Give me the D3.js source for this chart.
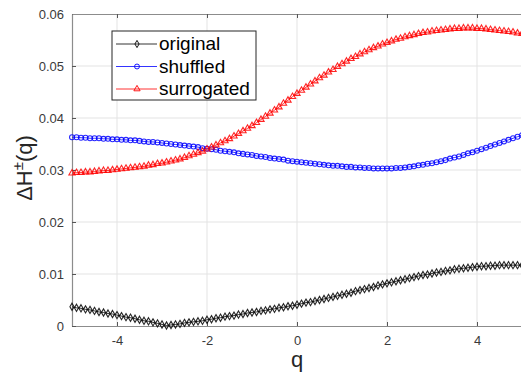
<!DOCTYPE html>
<html>
<head>
<meta charset="utf-8">
<script src="https://cdn.jsdelivr.net/npm/d3@7"></script>
<style>
  body { margin: 0; background: #fff; }
  svg { display: block; font-family: "Liberation Sans", Arial, sans-serif; }
</style>
</head>
<body>
<svg width="521" height="373"></svg>
<script>
/* q runs from -5 to 5 in steps of 0.1 (101 points) */
var qValues = d3.range(101).map(function(i) { return Math.round((-5 + i / 10) * 10) / 10; });

var original = [
  .0037,.0035,.0034,.0032,.0031,.0029,.0027,.0026,.0024,.0023,
  .0021,.0019,.0017,.0016,.0014,.0012,.0010,.0009,.0007,.0005,
  .0003,.0001,.0002,.0003,.0004,.0006,.0007,.0008,.0009,.0010,
  .0012,.0013,.0015,.0016,.0018,.0019,.0020,.0022,.0023,.0025,
  .0026,.0027,.0029,.0030,.0032,.0033,.0035,.0036,.0038,.0039,
  .0041,.0043,.0045,.0046,.0048,.0050,.0052,.0054,.0056,.0058,
  .0060,.0062,.0064,.0067,.0069,.0071,.0073,.0075,.0078,.0080,
  .0082,.0084,.0086,.0088,.0090,.0092,.0094,.0096,.0098,.0099,
  .0101,.0103,.0104,.0106,.0107,.0109,.0110,.0111,.0112,.0113,
  .0114,.0115,.0115,.0116,.0116,.0117,.0117,.0117,.0117,.0117,
  .0117
];

var shuffled = [
  .0363,.0363,.0362,.0362,.0361,.0361,.0361,.0360,.0360,.0359,
  .0359,.0358,.0358,.0357,.0357,.0356,.0355,.0354,.0354,.0353,
  .0352,.0351,.0350,.0349,.0348,.0347,.0346,.0345,.0344,.0342,
  .0341,.0340,.0339,.0337,.0336,.0335,.0334,.0332,.0331,.0330,
  .0329,.0327,.0326,.0325,.0323,.0322,.0321,.0320,.0318,.0317,
  .0316,.0315,.0314,.0313,.0312,.0311,.0310,.0309,.0308,.0308,
  .0307,.0306,.0306,.0305,.0305,.0304,.0304,.0303,.0303,.0303,
  .0303,.0303,.0304,.0304,.0305,.0306,.0307,.0309,.0310,.0312,
  .0313,.0315,.0317,.0319,.0322,.0324,.0326,.0329,.0332,.0334,
  .0337,.0340,.0343,.0346,.0349,.0352,.0355,.0358,.0361,.0364,
  .0367
];

var surrogated = [
  .0294,.0295,.0295,.0296,.0296,.0297,.0298,.0299,.0299,.0300,
  .0301,.0302,.0303,.0304,.0305,.0306,.0307,.0309,.0310,.0312,
  .0313,.0315,.0317,.0319,.0321,.0324,.0327,.0330,.0333,.0336,
  .0340,.0344,.0348,.0352,.0356,.0360,.0365,.0370,.0375,.0380,
  .0385,.0391,.0397,.0403,.0409,.0415,.0421,.0428,.0434,.0441,
  .0447,.0453,.0459,.0465,.0471,.0477,.0482,.0488,.0493,.0499,
  .0504,.0509,.0514,.0518,.0523,.0527,.0531,.0535,.0538,.0542,
  .0545,.0548,.0551,.0553,.0556,.0558,.0560,.0562,.0564,.0565,
  .0567,.0568,.0569,.0570,.0571,.0572,.0572,.0573,.0573,.0573,
  .0572,.0572,.0571,.0570,.0569,.0568,.0567,.0566,.0565,.0563,
  .0562
];

var seriesNames = ["original", "shuffled", "surrogated"];
var xTicks = [-4, -2, 0, 2, 4];
var yTicks = [0, 0.01, 0.02, 0.03, 0.04, 0.05, 0.06];

var svg = d3.select("svg"),
    margin = {top: 14, right: -1, bottom: 47, left: 72},
    width = +svg.attr("width") - margin.left - margin.right,
    height = +svg.attr("height") - margin.top - margin.bottom,
    g = svg.append("g").attr("transform", "translate(" + margin.left + "," + margin.top + ")");

var x = d3.scaleLinear().domain([-5, 5]).range([0, width]);
var y = d3.scaleLinear().domain([0, 0.06]).range([height, 0]);

/* grid */
g.append("g").selectAll("line").data(xTicks).enter().append("line")
    .attr("x1", function(d) { return x(d); }).attr("x2", function(d) { return x(d); })
    .attr("y1", 0).attr("y2", height)
    .attr("stroke", "#e3e3e3").attr("stroke-width", 1);
g.append("g").selectAll("line").data(yTicks.slice(1, -1)).enter().append("line")
    .attr("x1", 0).attr("x2", width)
    .attr("y1", function(d) { return y(d); }).attr("y2", function(d) { return y(d); })
    .attr("stroke", "#e3e3e3").attr("stroke-width", 1);

/* axes, MATLAB style with inward ticks */
var xAxis = g.append("g")
    .attr("transform", "translate(0," + height + ")")
    .call(d3.axisBottom(x).tickValues(xTicks).tickSizeInner(-4).tickSizeOuter(0).tickPadding(10)
      .tickFormat(function(d) { return d < 0 ? "-" + Math.abs(d) : d; }));
var yAxis = g.append("g")
    .call(d3.axisLeft(y).tickValues(yTicks).tickSizeInner(-4).tickSizeOuter(0).tickPadding(8)
      .tickFormat(function(d) { return d === 0 ? "0" : d3.format(".2f")(d); }));
var topAxis = g.append("g")
    .call(d3.axisTop(x).tickValues(xTicks).tickSizeInner(-4).tickSizeOuter(0).tickFormat(""));

[xAxis, yAxis, topAxis].forEach(function(a) {
  a.select(".domain").attr("stroke", "#8c8c8c").attr("stroke-width", 1.2);
  a.selectAll(".tick line").attr("stroke", "#555");
  a.selectAll(".tick text").attr("fill", "#3a3a3a").style("font-size", "13px");
});

/* series */
var series = [
  {name: seriesNames[0], values: original, color: "#000000", marker: d3.symbolDiamond, size: 15},
  {name: seriesNames[1], values: shuffled, color: "#0000ff", marker: d3.symbolCircle, size: 19},
  {name: seriesNames[2], values: surrogated, color: "#ff0000", marker: d3.symbolTriangle, size: 17}
];

var line = d3.line()
    .x(function(d, i) { return x(qValues[i]); })
    .y(function(d) { return y(d); });

series.forEach(function(s) {
  var sg = g.append("g");
  sg.append("path")
      .datum(s.values)
      .attr("fill", "none")
      .attr("stroke", s.color)
      .attr("stroke-width", 0.8)
      .attr("d", line);
  sg.selectAll("path.m").data(s.values).enter().append("path")
      .attr("class", "m")
      .attr("transform", function(d, i) { return "translate(" + x(qValues[i]) + "," + y(d) + ")"; })
      .attr("d", d3.symbol().type(s.marker).size(s.size))
      .attr("fill", "none")
      .attr("stroke", s.color)
      .attr("stroke-opacity", 0.85)
      .attr("stroke-width", 1.1);
});

/* axis labels */
svg.append("text")
    .attr("x", margin.left + x(0))
    .attr("y", 367)
    .attr("text-anchor", "middle")
    .attr("fill", "#262626")
    .style("font-size", "22px")
    .text("q");

var yl = svg.append("text")
    .attr("transform", "translate(32,168) rotate(-90)")
    .attr("text-anchor", "middle")
    .attr("fill", "#262626")
    .style("font-size", "22px");
yl.append("tspan").text("\u0394H");
yl.append("tspan").attr("dy", -9).style("font-size", "15px").text("\u00b1");
yl.append("tspan").attr("dy", 9).text("(q)");

/* legend */
var legend = svg.append("g").attr("transform", "translate(112,31)");
legend.append("rect")
    .attr("width", 144).attr("height", 69)
    .attr("fill", "#fff").attr("stroke", "#262626").attr("stroke-width", 1);
series.forEach(function(s, i) {
  var ly = 13 + i * 22.5;
  legend.append("line")
      .attr("x1", 4).attr("x2", 45).attr("y1", ly).attr("y2", ly)
      .attr("stroke", s.color).attr("stroke-width", 0.8);
  legend.append("path")
      .attr("transform", "translate(25," + ly + ")")
      .attr("d", d3.symbol().type(s.marker).size(s.size))
      .attr("fill", "none").attr("stroke", s.color).attr("stroke-width", 0.9);
  legend.append("text")
      .attr("x", 47).attr("y", ly + 6)
      .attr("fill", "#000")
      .style("font-size", "19px")
      .text(s.name);
});
</script>
</body>
</html>
